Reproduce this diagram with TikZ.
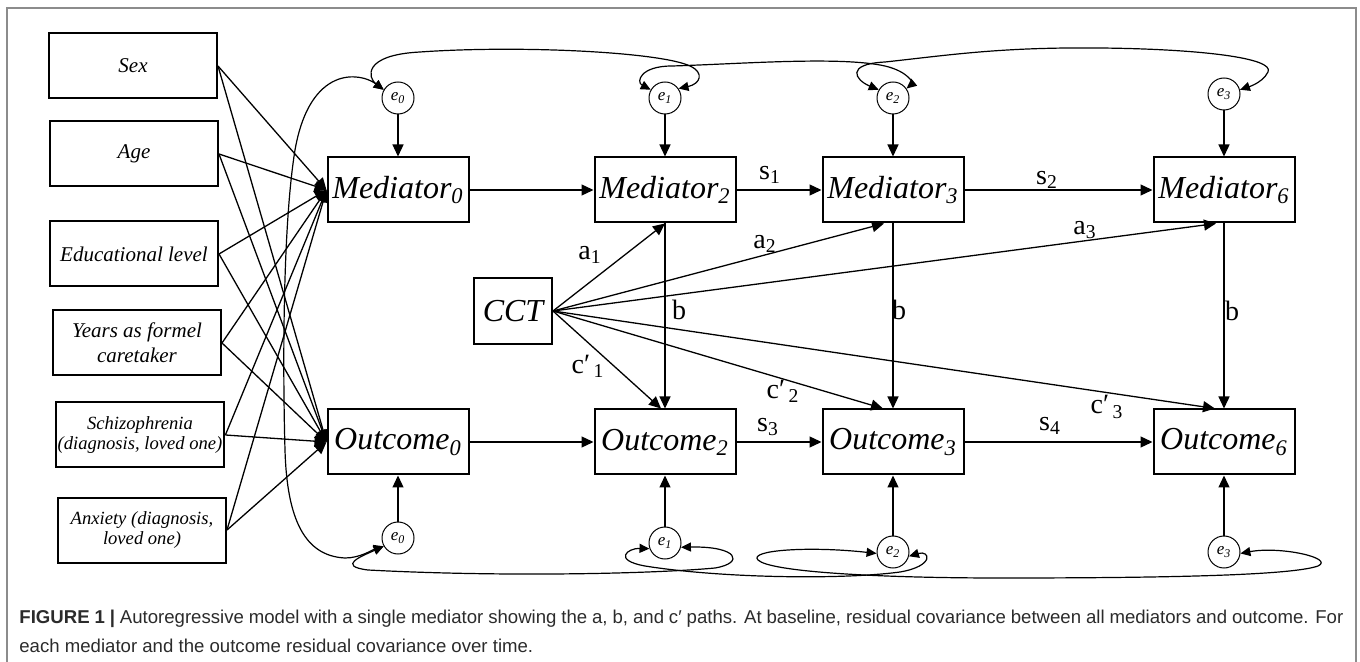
\documentclass[tikz,border=0pt]{standalone}
\usepackage{fontspec}
\setmainfont{Liberation Serif}
\newfontfamily\capfont{Liberation Sans}
\usetikzlibrary{positioning, arrows.meta}
\definecolor{framegray}{HTML}{8C8C8C}
\definecolor{captext}{HTML}{2B2B2B}

\begin{document}
\begin{tikzpicture}[
    x=0.5pt, y=-0.5pt,
    inbox/.style={rectangle, draw, line width=1pt, minimum width=84pt, minimum height=32.5pt, inner sep=1pt, align=center, font=\itshape\fontsize{10.5}{12.5}\selectfont},
    smallin/.style={inbox, font=\itshape\fontsize{9.3}{10}\selectfont},
    varbox/.style={rectangle, draw, line width=1pt, minimum width=70.5pt, minimum height=32.5pt, inner sep=1pt, font=\itshape\fontsize{16}{18}\selectfont},
    err/.style={circle, draw, line width=0.5pt, minimum size=16pt, inner sep=0pt, font=\itshape\fontsize{8.5}{9}\selectfont},
    arr/.style={-{Triangle[length=6pt, width=5.5pt]}, line width=0.65pt},
    cov/.style={{Triangle[length=5pt, width=4.5pt]}-{Triangle[length=5pt, width=4.5pt]}, line width=0.6pt},
    plbl/.style={font=\fontsize{14}{15}\selectfont, inner sep=0pt},
  ]
    \useasboundingbox (0,0) rectangle (1360,662);
    \draw[framegray, line width=1pt] (7,662) -- (7,8) -- (1356,8) -- (1356,662);

    % covariates
    \node[inbox] (sex) at (133,66) {Sex};
    \node[inbox] (age) at (134,154) {Age};
    \node[inbox] (edu) at (134,254) {Educational level};
    \node[inbox] (years) at (137,343) {Years as formel\\caretaker};
    \node[smallin] (schiz) at (140,435) {Schizophrenia\\(diagnosis, loved one)};
    \node[smallin] (anx) at (142,530) {Anxiety (diagnosis,\\loved one)};

    % mediators and outcomes
    \node[varbox] (med0) at (398,190) {Mediator\textsubscript{0}};
    \node[varbox, right=62pt of med0] (med2) {Mediator\textsubscript{2}};
    \node[varbox, right=42.5pt of med2] (med3) {Mediator\textsubscript{3}};
    \node[varbox, right=94pt of med3] (med6) {Mediator\textsubscript{6}};
    \node[varbox, below=92.5pt of med0] (out0) {Outcome\textsubscript{0}};
    \node[varbox, below=92.5pt of med2] (out2) {Outcome\textsubscript{2}};
    \node[varbox, below=92.5pt of med3] (out3) {Outcome\textsubscript{3}};
    \node[varbox, below=92.5pt of med6] (out6) {Outcome\textsubscript{6}};
    \node[varbox, minimum width=39pt, minimum height=33pt] (cct) at (513,311) {CCT};

    % residuals
    \node[err, above=21pt of med0] (e0t) {e\textsubscript{0}};
    \node[err, above=21pt of med2] (e1t) {e\textsubscript{1}};
    \node[err, above=21pt of med3] (e2t) {e\textsubscript{2}};
    \node[err, above=23pt of med6] (e3t) {e\textsubscript{3}};
    \node[err, below=23pt of out0] (e0b) {e\textsubscript{0}};
    \node[err, below=25.5pt of out2] (e1b) {e\textsubscript{1}};
    \node[err, below=30pt of out3] (e2b) {e\textsubscript{2}};
    \node[err, below=30pt of out6] (e3b) {e\textsubscript{3}};

    % path labels
    \node[plbl] (ls1) at (770,175) {s\textsubscript{1}};
    \node[plbl] (ls2) at (1047,180) {s\textsubscript{2}};
    \node[plbl] (ls3) at (768,427) {s\textsubscript{3}};
    \node[plbl] (ls4) at (1050,426) {s\textsubscript{4}};
    \node[plbl] (la1) at (590,255) {a\textsubscript{1}};
    \node[plbl] (la2) at (765,244) {a\textsubscript{2}};
    \node[plbl] (la3) at (1085,230) {a\textsubscript{3}};
    \node[plbl] (lb1) at (679,310) {b};
    \node[plbl] (lb2) at (899,310) {b};
    \node[plbl] (lb3) at (1232,311) {b};
    \node[plbl] (lc1) at (588,366) {c′\textsubscript{\,1}};
    \node[plbl] (lc2) at (783,391) {c′\textsubscript{\,2}};
    \node[plbl] (lc3) at (1107,407) {c′\textsubscript{\,3}};

    % covariates to baseline
    \foreach \src in {sex,age,edu,years,schiz,anx} {
      \draw[arr] (\src.east) -- (med0.west);
      \draw[arr] (\src.east) -- (out0.west);
    }

    % residual paths
    \foreach \e/\v in {e0t/med0, e1t/med2, e2t/med3, e3t/med6, e0b/out0, e1b/out2, e2b/out3, e3b/out6}
      \draw[arr] (\e) -- (\v);

    % autoregressive and b paths
    \draw[arr] (med0) -- (med2);
    \draw[arr] (med2) -- (med3);
    \draw[arr] (med3) -- (med6);
    \draw[arr] (out0) -- (out2);
    \draw[arr] (out2) -- (out3);
    \draw[arr] (out3) -- (out6);
    \draw[arr] (med2) -- (out2);
    \draw[arr] (med3) -- (out3);
    \draw[arr] (med6) -- (out6);

    % a and c' paths
    \draw[arr] (cct.east) -- (med2.south);
    \draw[arr] (cct.east) -- ([xshift=-4.5pt]med3.south);
    \draw[arr] (cct.east) -- ([xshift=-4pt]med6.south);
    \draw[arr] (cct.east) -- ([xshift=-2pt]out2.north);
    \draw[arr] (cct.east) -- ([xshift=-5pt]out3.north);
    \draw[arr] (cct.east) -- ([xshift=-4.5pt]out6.north);

    % residual covariances
    \draw[cov] (e0t.150) .. controls (360,72) and (310,65) .. (295,150)
      .. controls (282,230) and (283,380) .. (285,450)
      .. controls (287,520) and (305,556) .. (345,558)
      .. controls (360,558) and (372,550) .. (e0b.210);
    \draw[cov] (e0t.150) .. controls (368,78) and (362,55) .. (420,52)
      .. controls (520,45) and (660,52) .. (690,66)
      .. controls (705,73) and (700,84) .. (e1t.35);
    \draw[cov] (e1t.150) .. controls (636,82) and (640,66) .. (672,66)
      .. controls (740,64) and (840,56) .. (885,66)
      .. controls (910,72) and (912,84) .. (e2t.35);
    \draw[cov] (e2t.150) .. controls (855,80) and (845,64) .. (885,62)
      .. controls (950,55) and (1000,47) .. (1100,48)
      .. controls (1200,49) and (1275,58) .. (1268,72)
      .. controls (1262,84) and (1245,88) .. (e3t.15);
    \draw[cov] (e0b.210) .. controls (362,556) and (336,566) .. (368,570)
      .. controls (500,577) and (650,574) .. (715,568)
      .. controls (745,563) and (738,546) .. (e1b.-15);
    \draw[cov] (e1b.200) .. controls (628,548) and (612,560) .. (645,566)
      .. controls (720,578) and (840,580) .. (900,572)
      .. controls (935,566) and (930,550) .. (e2b.-15);
    \draw[cov] (e2b.185) .. controls (810,546) and (748,550) .. (758,560)
      .. controls (770,572) and (880,578) .. (1000,578)
      .. controls (1150,578) and (1290,576) .. (1318,566)
      .. controls (1335,558) and (1280,546) .. (e3b.-5);

    % caption
    \node[anchor=west, inner sep=0pt, text=captext, font=\capfont\fontsize{9.3}{11}\selectfont] (cap1) at (19,619)
      {\makebox[662pt][s]{{\bfseries FIGURE 1 |} Autoregressive model with a single mediator showing the a, b, and c′ paths. At baseline, residual covariance between all mediators and outcome. For}};
    \node[anchor=west, inner sep=0pt, text=captext, font=\capfont\fontsize{9.3}{11}\selectfont] (cap2) at (19,646)
      {each mediator and the outcome residual covariance over time.};
  \end{tikzpicture}
\end{document}
